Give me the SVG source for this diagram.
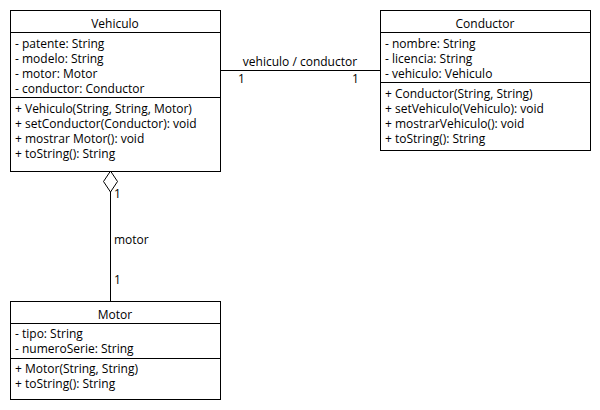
<svg xmlns="http://www.w3.org/2000/svg" width="600" height="410" viewBox="0 0 600 410">
<style>
text{font-family:"Open Sans","Noto Sans","DejaVu Sans",sans-serif;font-size:12px;fill:#000}
.c{text-anchor:middle}
.box{fill:#fff;stroke:#000;stroke-width:1}
.ln{stroke:#000;stroke-width:1;fill:none}
</style>
<rect width="600" height="410" fill="#fff"/>
<g id="connectors">
<line class="ln" x1="220" y1="70.5" x2="380" y2="70.5"/>
<text class="c" x="300" y="66">vehiculo / conductor</text>
<text x="238" y="83">1</text>
<text x="352" y="83">1</text>
<polygon class="ln" points="110.5,171 117.5,181.5 110.5,192 103.5,181.5" fill="#fff"/>
<line class="ln" x1="110.5" y1="192" x2="110.5" y2="301"/>
<text x="114" y="198">1</text>
<text x="114" y="244">motor</text>
<text x="114" y="284">1</text>
</g>
<g id="Vehiculo">
<rect class="box" x="10.5" y="10.5" width="210" height="161"/>
<line class="ln" x1="10.5" y1="32.5" x2="220.5" y2="32.5"/>
<line class="ln" x1="10.5" y1="97.5" x2="220.5" y2="97.5"/>
<text class="c" x="115" y="28">Vehiculo</text>
<text x="15" y="48">- patente: String</text>
<text x="15" y="63">- modelo: String</text>
<text x="15" y="78">- motor: Motor</text>
<text x="15" y="93">- conductor: Conductor</text>
<text x="15" y="113">+ Vehiculo(String, String, Motor)</text>
<text x="15" y="128">+ setConductor(Conductor): void</text>
<text x="15" y="143">+ mostrar Motor(): void</text>
<text x="15" y="158">+ toString(): String</text>
</g>
<g id="Conductor">
<rect class="box" x="380.5" y="10.5" width="210" height="140"/>
<line class="ln" x1="380.5" y1="32.5" x2="590.5" y2="32.5"/>
<line class="ln" x1="380.5" y1="82.5" x2="590.5" y2="82.5"/>
<text class="c" x="485" y="28">Conductor</text>
<text x="385" y="48">- nombre: String</text>
<text x="385" y="63">- licencia: String</text>
<text x="385" y="78">- vehiculo: Vehiculo</text>
<text x="385" y="98">+ Conductor(String, String)</text>
<text x="385" y="113">+ setVehiculo(Vehiculo): void</text>
<text x="385" y="128">+ mostrarVehiculo(): void</text>
<text x="385" y="143">+ toString(): String</text>
</g>
<g id="Motor">
<rect class="box" x="10.5" y="301.5" width="210" height="98"/>
<line class="ln" x1="10.5" y1="323.5" x2="220.5" y2="323.5"/>
<line class="ln" x1="10.5" y1="358.5" x2="220.5" y2="358.5"/>
<text class="c" x="115" y="319">Motor</text>
<text x="15" y="338">- tipo: String</text>
<text x="15" y="353">- numeroSerie: String</text>
<text x="15" y="373">+ Motor(String, String)</text>
<text x="15" y="388">+ toString(): String</text>
</g>
</svg>
